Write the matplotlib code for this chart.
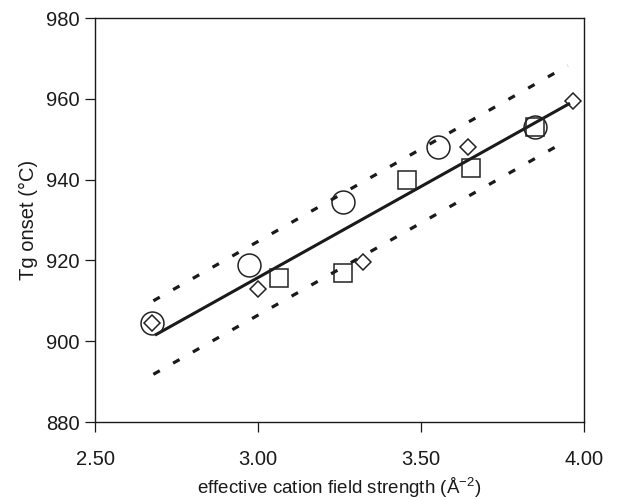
import matplotlib
matplotlib.use("Agg")
import matplotlib.pyplot as plt

plt.rcParams['font.family'] = ['Liberation Sans', 'DejaVu Sans']
plt.rcParams['mathtext.default'] = 'regular'

# data
circle_x = [2.674, 2.973, 3.262, 3.553, 3.850]
circle_y = [904.6, 918.9, 934.5, 948.0, 953.1]
square_x = [3.065, 3.262, 3.458, 3.652, 3.850]
square_y = [915.6, 916.8, 939.9, 942.8, 953.1]
diamond_x = [2.674, 3.001, 3.323, 3.645, 3.965]
diamond_y = [904.6, 912.8, 919.7, 948.0, 959.5]

fit_x = [2.684, 3.957]
fit_y = [901.5, 958.9]
upper_x = [2.679, 3.950]
upper_y = [910.0, 968.2]
lower_x = [2.679, 3.950]
lower_y = [891.8, 949.8]

xticks = [2.50, 3.00, 3.50, 4.00]
yticks = [880, 900, 920, 940, 960, 980]

fig = plt.figure(figsize=(6.36, 5.0), dpi=100)
ax = fig.add_axes([0.1494, 0.156, 0.7689, 0.808])

dot = (0, (2.3, 4.8))
ax.plot(upper_x, upper_y, color='#1a1a1a', lw=2.3, linestyle=dot, dash_capstyle='butt')
ax.plot(lower_x, lower_y, color='#1a1a1a', lw=2.3, linestyle=dot, dash_capstyle='butt')
ax.plot(fit_x, fit_y, color='#1a1a1a', lw=2.2, solid_capstyle='butt')

ax.plot(circle_x, circle_y, linestyle='none', marker='o', ms=16.5, mfc='none',
        mec='#222222', mew=1.1)
ax.plot(square_x, square_y, linestyle='none', marker='s', ms=12.5, mfc='none',
        mec='#222222', mew=1.1)
ax.plot(diamond_x, diamond_y, linestyle='none', marker='D', ms=8.6, mfc='none',
        mec='#222222', mew=1.1)

ax.set_xlim(2.5, 4.0)
ax.set_ylim(880, 980)
ax.set_xticks(xticks)
ax.set_xticklabels([f'{t:.2f}' for t in xticks])
ax.set_yticks(yticks)
ax.set_yticklabels([str(t) for t in yticks])
ax.tick_params(direction='out', length=7, width=0.9, labelsize=14.5, colors='#1a1a1a')
ax.tick_params(axis='x', pad=13)
ax.tick_params(axis='y', pad=4)
for s in ax.spines.values():
    s.set_linewidth(1.0)
    s.set_color('#1a1a1a')

ax.set_xlabel(r'effective cation field strength (Å$^{-2}$)', fontsize=13.5, labelpad=5, color='#1a1a1a')
ax.set_ylabel('Tg onset (°C)', fontsize=14.5, labelpad=6, color='#1a1a1a')

fig.savefig('out.png', dpi=100)
